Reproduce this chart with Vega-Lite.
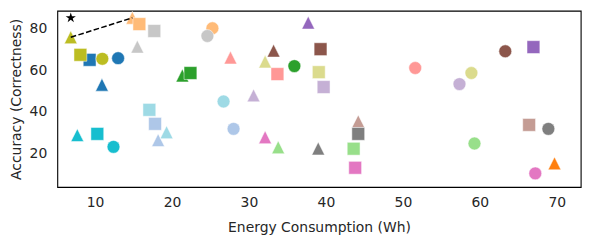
{
  "$schema": "https://vega.github.io/schema/vega-lite/v6.json",
  "autosize": {"type": "none"},
  "padding": {"left": 57.3, "top": 10.7, "right": 9.3, "bottom": 53},
  "width": 523.4,
  "height": 176.3,
  "config": {
    "font": "DejaVu Sans",
    "view": {"stroke": "black", "strokeWidth": 1.1},
    "axis": {
      "grid": false, "domain": false, "ticks": false, "tickSize": 0,
      "labelFont": "DejaVu Sans", "titleFont": "DejaVu Sans",
      "labelFontSize": 13.9, "titleFontSize": 13.9,
      "labelColor": "#262626", "titleColor": "#262626",
      "titleFontWeight": "normal"
    }
  },
  "layer": [
    {
      "data": {"values": [
        {"model": "M1", "variant": "triangle", "energy": 10.9, "acc": 53.0},
        {"model": "M2", "variant": "triangle", "energy": 18.2, "acc": 26.5},
        {"model": "M3", "variant": "triangle", "energy": 69.7, "acc": 15.4},
        {"model": "M4", "variant": "triangle", "energy": 14.85, "acc": 85.0},
        {"model": "M5", "variant": "triangle", "energy": 21.35, "acc": 57.4},
        {"model": "M6", "variant": "triangle", "energy": 33.8, "acc": 23.1},
        {"model": "M8", "variant": "triangle", "energy": 27.6, "acc": 66.0},
        {"model": "M9", "variant": "triangle", "energy": 37.7, "acc": 82.7},
        {"model": "M10", "variant": "triangle", "energy": 30.6, "acc": 47.9},
        {"model": "M11", "variant": "triangle", "energy": 33.2, "acc": 69.3},
        {"model": "M12", "variant": "triangle", "energy": 44.2, "acc": 35.5},
        {"model": "M13", "variant": "triangle", "energy": 32.1, "acc": 27.9},
        {"model": "M15", "variant": "triangle", "energy": 39.0, "acc": 22.5},
        {"model": "M16", "variant": "triangle", "energy": 15.5, "acc": 71.2},
        {"model": "M17", "variant": "triangle", "energy": 6.85, "acc": 75.7},
        {"model": "M18", "variant": "triangle", "energy": 32.1, "acc": 64.1},
        {"model": "M19", "variant": "triangle", "energy": 7.7, "acc": 28.9},
        {"model": "M20", "variant": "triangle", "energy": 19.3, "acc": 30.3},
        {"model": "M1", "variant": "square", "energy": 9.3, "acc": 64.9},
        {"model": "M2", "variant": "square", "energy": 17.8, "acc": 34.3},
        {"model": "M4", "variant": "square", "energy": 15.76, "acc": 82.0},
        {"model": "M5", "variant": "square", "energy": 22.4, "acc": 58.6},
        {"model": "M6", "variant": "square", "energy": 43.6, "acc": 22.4},
        {"model": "M8", "variant": "square", "energy": 33.7, "acc": 58.1},
        {"model": "M9", "variant": "square", "energy": 66.96, "acc": 71.0},
        {"model": "M10", "variant": "square", "energy": 39.7, "acc": 51.9},
        {"model": "M11", "variant": "square", "energy": 39.3, "acc": 70.0},
        {"model": "M12", "variant": "square", "energy": 66.4, "acc": 33.8},
        {"model": "M13", "variant": "square", "energy": 43.8, "acc": 13.3},
        {"model": "M15", "variant": "square", "energy": 44.2, "acc": 29.5},
        {"model": "M16", "variant": "square", "energy": 17.7, "acc": 78.7},
        {"model": "M17", "variant": "square", "energy": 8.1, "acc": 67.3},
        {"model": "M18", "variant": "square", "energy": 39.07, "acc": 59.0},
        {"model": "M19", "variant": "square", "energy": 10.3, "acc": 29.5},
        {"model": "M20", "variant": "square", "energy": 17.06, "acc": 41.0},
        {"model": "M1", "variant": "circle", "energy": 13.0, "acc": 65.7},
        {"model": "M2", "variant": "circle", "energy": 28.0, "acc": 31.9},
        {"model": "M4", "variant": "circle", "energy": 25.25, "acc": 80.0},
        {"model": "M5", "variant": "circle", "energy": 35.9, "acc": 61.9},
        {"model": "M6", "variant": "circle", "energy": 59.3, "acc": 24.9},
        {"model": "M8", "variant": "circle", "energy": 51.6, "acc": 61.0},
        {"model": "M10", "variant": "circle", "energy": 57.35, "acc": 53.3},
        {"model": "M11", "variant": "circle", "energy": 63.3, "acc": 69.0},
        {"model": "M13", "variant": "circle", "energy": 67.2, "acc": 10.6},
        {"model": "M15", "variant": "circle", "energy": 68.9, "acc": 31.9},
        {"model": "M16", "variant": "circle", "energy": 24.6, "acc": 76.3},
        {"model": "M17", "variant": "circle", "energy": 10.95, "acc": 65.4},
        {"model": "M18", "variant": "circle", "energy": 58.9, "acc": 58.6},
        {"model": "M19", "variant": "circle", "energy": 12.4, "acc": 23.3},
        {"model": "M20", "variant": "circle", "energy": 26.7, "acc": 45.0}
      ]},
      "mark": {"type": "point", "filled": true, "opacity": 1, "size": 165, "stroke": "white", "strokeWidth": 0.5},
      "encoding": {
        "x": {"field": "energy", "type": "quantitative", "scale": {"domain": [5.1, 73.1], "nice": false, "zero": false},
              "axis": {"title": "Energy Consumption (Wh)", "values": [10, 20, 30, 40, 50, 60, 70], "labelBaseline": "alphabetic", "labelPadding": 19.7, "titleY": 44.7, "titleBaseline": "alphabetic"}},
        "y": {"field": "acc", "type": "quantitative", "scale": {"domain": [4.1, 88.4], "nice": false, "zero": false},
              "axis": {"title": "Accuracy (Correctness)", "values": [20, 40, 60, 80], "labelPadding": 10.5, "titleX": -37.3, "titleBaseline": "alphabetic"}},
        "color": {"field": "model", "type": "nominal", "legend": null,
                  "scale": {"domain": ["M1","M2","M3","M4","M5","M6","M7","M8","M9","M10","M11","M12","M13","M14","M15","M16","M17","M18","M19","M20"],
                            "range": ["#1f77b4","#aec7e8","#ff7f0e","#ffbb78","#2ca02c","#98df8a","#d62728","#ff9896","#9467bd","#c5b0d5","#8c564b","#c49c94","#e377c2","#f7b6d2","#7f7f7f","#c7c7c7","#bcbd22","#dbdb8d","#17becf","#9edae5"]}},
        "shape": {"field": "variant", "type": "nominal", "legend": null,
                  "scale": {"domain": ["circle", "square", "triangle"], "range": ["circle", "square", "M0,-1L1,1L-1,1Z"]}}
      }
    },
    {
      "data": {"values": [
        {"energy": 6.85, "acc": 75.7},
        {"energy": 14.85, "acc": 85.0}
      ]},
      "mark": {"type": "line", "color": "black", "strokeWidth": 1.5, "strokeDash": [5.6, 2.4]},
      "encoding": {
        "x": {"field": "energy", "type": "quantitative"},
        "y": {"field": "acc", "type": "quantitative"}
      }
    },
    {
      "data": {"values": [{"energy": 6.85, "acc": 85.0}]},
      "mark": {"type": "point", "shape": "M0,-1L0.2245,-0.309L0.9511,-0.309L0.3633,0.118L0.5878,0.809L0,0.382L-0.5878,0.809L-0.3633,0.118L-0.9511,-0.309L-0.2245,-0.309Z", "filled": true, "color": "black", "opacity": 1, "size": 115},
      "encoding": {
        "x": {"field": "energy", "type": "quantitative"},
        "y": {"field": "acc", "type": "quantitative"}
      }
    }
  ]
}
